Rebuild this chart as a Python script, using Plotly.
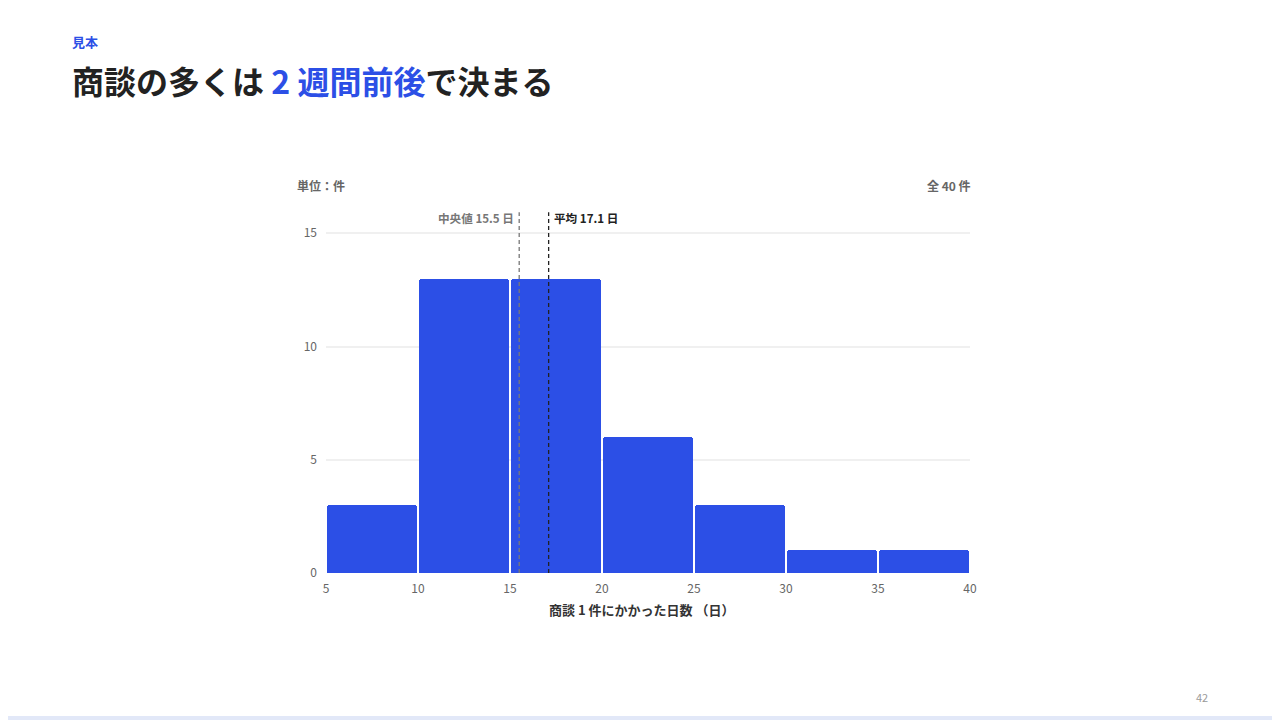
import plotly.graph_objects as go

# histogram of days per deal (40 deals)
bin_edges = [5, 10, 15, 20, 25, 30, 35, 40]
counts = [3, 13, 13, 6, 3, 1, 1]
median_days = 15.5
mean_days = 17.1
total = 40

y_ticks = [0, 5, 10, 15]
x_ticks = [5, 10, 15, 20, 25, 30, 35, 40]

BLUE = "#2c4fe6"
FONT = "Noto Sans CJK JP"

# plot area in screen pixels; page body has an 8px margin
OFF = 8
Y_MAX = 15.1
L, R, B = 326, 970, 573
T = B - (B - 233) * Y_MAX / 15  # keep "15" gridline at y=233


def px(x, y):
    # screen pixel -> paper coords
    return (x - L) / (R - L), (B - y) / (B - T)


centers = [(a + b) / 2 for a, b in zip(bin_edges[:-1], bin_edges[1:])]
widths = [(b - a) * 0.972 for a, b in zip(bin_edges[:-1], bin_edges[1:])]

fig = go.Figure()
fig.add_trace(
    go.Bar(
        x=centers,
        y=counts,
        width=widths,
        marker=dict(color=BLUE, line=dict(width=0), cornerradius=3),
        hoverinfo="skip",
    )
)

annotations = []


def note(text, x, y, size, color, xanchor="left", yanchor="middle"):
    # annotations carry ~3px of padding, compensate
    pad = {"left": -3, "right": 3, "center": 0}[xanchor]
    ax, ay = px(x + pad, y)
    annotations.append(dict(
        text=text, x=ax, y=ay, xref="paper", yref="paper",
        xanchor=xanchor, yanchor=yanchor, showarrow=False,
        font=dict(family=FONT, size=size, color=color),
    ))


note("<b>見本</b>", 73, 41, 13, BLUE)
note("<b>商談の多くは <span style='color:%s'>2 週間前後</span>で決まる</b>" % BLUE,
     73, 80, 32, "#222222")
note("<b>単位：件</b>", 298, 185, 12, "#666666")
note("<b>全 %d 件</b>" % total, 970, 185, 12, "#666666", xanchor="right")
note("<b>中央値 %.1f 日</b>" % median_days, 513, 218, 11.6, "#777777", xanchor="right")
note("<b>平均 %.1f 日</b>" % mean_days, 555, 218, 11.6, "#222222")
note("<b>商談 1 件にかかった日数 （日）</b>", 642, 610, 13, "#333333", xanchor="center")
note("42", 1202, 697, 11, "#9a9a9a", xanchor="center")

line_top = px(0, 212)[1]
shapes = [
    dict(type="line", xref="x", yref="paper", x0=median_days, x1=median_days,
         y0=0, y1=line_top, line=dict(color="#777777", width=1.3, dash="4px,3px")),
    dict(type="line", xref="x", yref="paper", x0=mean_days, x1=mean_days,
         y0=0, y1=line_top, line=dict(color="#222222", width=1.3, dash="4px,3px")),
]
# light band at bottom of slide
bx0, by0 = px(0, 716)
bx1, by1 = px(1280, 722)
shapes.append(dict(type="rect", xref="paper", yref="paper", x0=bx0, x1=bx1,
                   y0=by0, y1=by1, fillcolor="#e2e8f8", line=dict(width=0), layer="below"))

fig.update_layout(
    width=1280,
    height=720,
    margin=dict(l=L - OFF, r=1280 - (R - OFF), t=T - OFF, b=720 - (B - OFF)),
    paper_bgcolor="white",
    plot_bgcolor="white",
    showlegend=False,
    bargap=0,
    font=dict(family=FONT, size=12, color="#666666"),
    xaxis=dict(
        range=[bin_edges[0], bin_edges[-1]],
        tickvals=x_ticks,
        showgrid=False,
        zeroline=False,
        showline=False,
        ticks="",
        ticklabelstandoff=7,
        tickfont=dict(size=12, color="#666666"),
    ),
    yaxis=dict(
        range=[0, Y_MAX],
        tickvals=y_ticks,
        showgrid=True,
        gridcolor="#f0f0f0",
        gridwidth=2,
        zeroline=False,
        showline=False,
        ticks="",
        ticklabelstandoff=8,
        tickfont=dict(size=12, color="#666666"),
    ),
    annotations=annotations,
    shapes=shapes,
)

fig.write_html("out.html")
